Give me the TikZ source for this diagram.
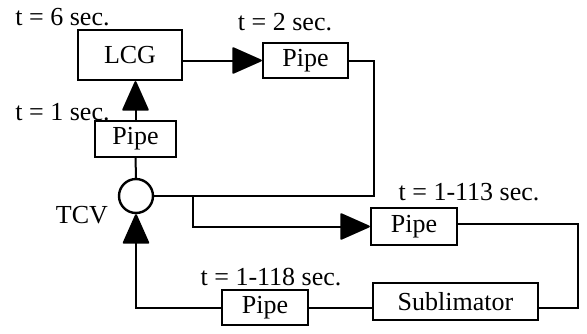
\documentclass[tikz,border=0pt]{standalone}
\usepackage{fontspec}
\setmainfont{Liberation Serif}
\usetikzlibrary{arrows.meta,positioning}
\tikzset{
  box/.style={draw, line width=2.4pt, minimum height=35pt, inner sep=0pt, align=center},
  valve/.style={draw, circle, line width=2.4pt, minimum size=34pt, inner sep=0pt},
  lbl/.style={inner sep=0pt},
  pipeline/.style={line width=2pt},
  flow/.style={pipeline, -{Triangle[length=31pt, width=27pt, round]}}
}
\begin{document}
\begin{tikzpicture}[x=1pt, y=-1pt, font=\fontsize{26}{30}\selectfont]
  \useasboundingbox (0,0) rectangle (587,333);

  \node[box, minimum width=104pt, minimum height=50pt] (lcg) at (130,55) {LCG};
  \node[box, minimum width=85pt] (pipetop) at (305.5,60.5) {Pipe};
  \node[box, minimum width=81pt, minimum height=36pt] (pipeleft) at (135.5,139) {Pipe};
  \node[valve] (tcv) at (136,196) {};
  \node[box, minimum width=86pt, minimum height=37pt] (piperight) at (414,226.5) {Pipe};
  \node[box, minimum width=165pt, minimum height=37pt] (subl) at (455.5,301.5) {Sublimator};
  \node[box, minimum width=86pt] (pipebottom) at (265,307.5) {Pipe};

  \node[lbl] (tsix) at (62.5,17) {t = 6 sec.};
  \node[lbl] (ttwo) at (285,22) {t = 2 sec.};
  \node[lbl] (tone) at (62.5,112) {t = 1 sec.};
  \node[lbl] (tcvname) at (82,215) {TCV};
  \node[lbl] (tupper) at (469,192) {t = 1-113 sec.};
  \node[lbl] (tlower) at (271,277) {t = 1-118 sec.};

  \coordinate (split) at (193,196);
  \coordinate (rturn) at (578,224);

  \draw[pipeline] (tcv) -- (pipeleft);
  \draw[flow] (pipeleft.north) -- (pipeleft.north |- lcg.south);
  \draw[flow] (lcg.east |- pipetop.west) -- (pipetop.west);
  \draw[pipeline] (pipetop.east) -- ++(25,0) |- (tcv.east);
  \draw[flow] (split) |- (piperight.west);
  \draw[pipeline] (piperight.east |- rturn) -- (rturn) |- ([yshift=-6pt]subl.east);
  \draw[pipeline] (subl.west |- pipebottom.west) -- (pipebottom.east);
  \draw[flow] (pipebottom.west) -| (tcv.south);
\end{tikzpicture}
\end{document}
